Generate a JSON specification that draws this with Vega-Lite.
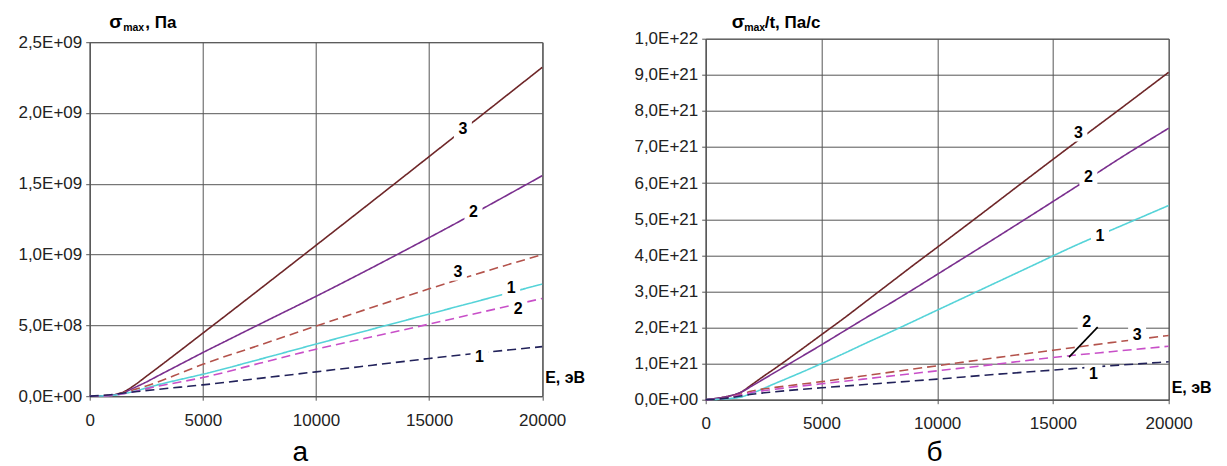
{
  "$schema": "https://vega.github.io/schema/vega-lite/v6.json",
  "background": "white",
  "padding": {"left": 16.7, "top": 12.7, "right": 5, "bottom": 0},
  "spacing": 163,
  "bounds": "flush",
  "center": true,
  "config": {
    "font": "Liberation Sans",
    "view": {"stroke": "#555555", "strokeWidth": 1},
    "axis": {
      "gridColor": "#555555", "gridOpacity": 1, "gridWidth": 1,
      "domainColor": "#555555", "domainWidth": 1,
      "tickColor": "#555555", "tickSize": 4,
      "labelFontSize": 17, "labelColor": "#222222", "labelFont": "Liberation Sans"
    }
  },
  "datasets": {
    "curves": [
      {"panel":"a","s":"3s","E":0,"v":0},{"panel":"a","s":"3s","E":500,"v":2e6},{"panel":"a","s":"3s","E":1000,"v":8e6},{"panel":"a","s":"3s","E":1500,"v":3e7},{"panel":"a","s":"3s","E":2000,"v":8e7},{"panel":"a","s":"3s","E":2500,"v":1.4e8},{"panel":"a","s":"3s","E":3000,"v":2.0e8},{"panel":"a","s":"3s","E":4000,"v":3.22e8},{"panel":"a","s":"3s","E":5000,"v":4.45e8},{"panel":"a","s":"3s","E":6000,"v":5.68e8},{"panel":"a","s":"3s","E":8000,"v":8.16e8},{"panel":"a","s":"3s","E":10000,"v":1.065e9},{"panel":"a","s":"3s","E":12000,"v":1.315e9},{"panel":"a","s":"3s","E":14000,"v":1.566e9},{"panel":"a","s":"3s","E":16000,"v":1.818e9},{"panel":"a","s":"3s","E":18000,"v":2.07e9},{"panel":"a","s":"3s","E":20000,"v":2.322e9},
      {"panel":"a","s":"2s","E":0,"v":0},{"panel":"a","s":"2s","E":500,"v":2e6},{"panel":"a","s":"2s","E":1000,"v":8e6},{"panel":"a","s":"2s","E":1500,"v":2.6e7},{"panel":"a","s":"2s","E":2000,"v":6.2e7},{"panel":"a","s":"2s","E":2500,"v":1.0e8},{"panel":"a","s":"2s","E":3000,"v":1.42e8},{"panel":"a","s":"2s","E":4000,"v":2.25e8},{"panel":"a","s":"2s","E":5000,"v":3.08e8},{"panel":"a","s":"2s","E":6000,"v":3.88e8},{"panel":"a","s":"2s","E":8000,"v":5.47e8},{"panel":"a","s":"2s","E":10000,"v":7.05e8},{"panel":"a","s":"2s","E":12000,"v":8.68e8},{"panel":"a","s":"2s","E":14000,"v":1.035e9},{"panel":"a","s":"2s","E":16000,"v":1.205e9},{"panel":"a","s":"2s","E":18000,"v":1.38e9},{"panel":"a","s":"2s","E":20000,"v":1.557e9},
      {"panel":"a","s":"3d","E":0,"v":0},{"panel":"a","s":"3d","E":1000,"v":1.0e7},{"panel":"a","s":"3d","E":1500,"v":2.6e7},{"panel":"a","s":"3d","E":2000,"v":4.8e7},{"panel":"a","s":"3d","E":2500,"v":7.2e7},{"panel":"a","s":"3d","E":3000,"v":1.0e8},{"panel":"a","s":"3d","E":4000,"v":1.62e8},{"panel":"a","s":"3d","E":5000,"v":2.25e8},{"panel":"a","s":"3d","E":7500,"v":3.6e8},{"panel":"a","s":"3d","E":10000,"v":4.95e8},{"panel":"a","s":"3d","E":12500,"v":6.28e8},{"panel":"a","s":"3d","E":15000,"v":7.58e8},{"panel":"a","s":"3d","E":17500,"v":8.82e8},{"panel":"a","s":"3d","E":20000,"v":1.0e9},
      {"panel":"a","s":"1s","E":0,"v":0},{"panel":"a","s":"1s","E":1000,"v":6e6},{"panel":"a","s":"1s","E":1500,"v":1.8e7},{"panel":"a","s":"1s","E":2000,"v":3.6e7},{"panel":"a","s":"1s","E":2500,"v":5.8e7},{"panel":"a","s":"1s","E":3000,"v":8.0e7},{"panel":"a","s":"1s","E":4000,"v":1.18e8},{"panel":"a","s":"1s","E":5000,"v":1.55e8},{"panel":"a","s":"1s","E":7500,"v":2.6e8},{"panel":"a","s":"1s","E":10000,"v":3.68e8},{"panel":"a","s":"1s","E":12500,"v":4.74e8},{"panel":"a","s":"1s","E":15000,"v":5.8e8},{"panel":"a","s":"1s","E":17500,"v":6.86e8},{"panel":"a","s":"1s","E":20000,"v":7.92e8},
      {"panel":"a","s":"2d","E":0,"v":0},{"panel":"a","s":"2d","E":1000,"v":6e6},{"panel":"a","s":"2d","E":1500,"v":1.7e7},{"panel":"a","s":"2d","E":2000,"v":3.3e7},{"panel":"a","s":"2d","E":2500,"v":5.2e7},{"panel":"a","s":"2d","E":3000,"v":7.0e7},{"panel":"a","s":"2d","E":4000,"v":1.0e8},{"panel":"a","s":"2d","E":5000,"v":1.32e8},{"panel":"a","s":"2d","E":7500,"v":2.32e8},{"panel":"a","s":"2d","E":10000,"v":3.32e8},{"panel":"a","s":"2d","E":12500,"v":4.2e8},{"panel":"a","s":"2d","E":15000,"v":5.09e8},{"panel":"a","s":"2d","E":17500,"v":6.0e8},{"panel":"a","s":"2d","E":20000,"v":6.9e8},
      {"panel":"a","s":"1d","E":0,"v":0},{"panel":"a","s":"1d","E":1000,"v":1.2e7},{"panel":"a","s":"1d","E":1500,"v":2.2e7},{"panel":"a","s":"1d","E":2000,"v":3.1e7},{"panel":"a","s":"1d","E":3000,"v":4.8e7},{"panel":"a","s":"1d","E":4000,"v":6.4e7},{"panel":"a","s":"1d","E":5000,"v":8.0e7},{"panel":"a","s":"1d","E":7500,"v":1.26e8},{"panel":"a","s":"1d","E":10000,"v":1.72e8},{"panel":"a","s":"1d","E":12500,"v":2.19e8},{"panel":"a","s":"1d","E":15000,"v":2.66e8},{"panel":"a","s":"1d","E":17500,"v":3.1e8},{"panel":"a","s":"1d","E":20000,"v":3.5e8},
      {"panel":"b","s":"3s","E":0,"v":0},{"panel":"b","s":"3s","E":500,"v":0.04},{"panel":"b","s":"3s","E":1000,"v":0.1},{"panel":"b","s":"3s","E":1500,"v":0.2},{"panel":"b","s":"3s","E":2000,"v":0.42},{"panel":"b","s":"3s","E":2500,"v":0.65},{"panel":"b","s":"3s","E":3000,"v":0.87},{"panel":"b","s":"3s","E":4000,"v":1.33},{"panel":"b","s":"3s","E":5000,"v":1.8},{"panel":"b","s":"3s","E":6000,"v":2.27},{"panel":"b","s":"3s","E":7000,"v":2.76},{"panel":"b","s":"3s","E":8000,"v":3.25},{"panel":"b","s":"3s","E":9000,"v":3.74},{"panel":"b","s":"3s","E":10000,"v":4.22},{"panel":"b","s":"3s","E":12000,"v":5.19},{"panel":"b","s":"3s","E":14000,"v":6.17},{"panel":"b","s":"3s","E":16000,"v":7.14},{"panel":"b","s":"3s","E":18000,"v":8.1},{"panel":"b","s":"3s","E":20000,"v":9.07},
      {"panel":"b","s":"2s","E":0,"v":0},{"panel":"b","s":"2s","E":500,"v":0.04},{"panel":"b","s":"2s","E":1000,"v":0.1},{"panel":"b","s":"2s","E":1500,"v":0.2},{"panel":"b","s":"2s","E":2000,"v":0.38},{"panel":"b","s":"2s","E":2500,"v":0.57},{"panel":"b","s":"2s","E":3000,"v":0.76},{"panel":"b","s":"2s","E":4000,"v":1.14},{"panel":"b","s":"2s","E":5000,"v":1.52},{"panel":"b","s":"2s","E":6000,"v":1.91},{"panel":"b","s":"2s","E":7000,"v":2.3},{"panel":"b","s":"2s","E":8000,"v":2.68},{"panel":"b","s":"2s","E":9000,"v":3.07},{"panel":"b","s":"2s","E":10000,"v":3.47},{"panel":"b","s":"2s","E":12000,"v":4.27},{"panel":"b","s":"2s","E":14000,"v":5.08},{"panel":"b","s":"2s","E":16000,"v":5.9},{"panel":"b","s":"2s","E":18000,"v":6.73},{"panel":"b","s":"2s","E":20000,"v":7.52},
      {"panel":"b","s":"1s","E":0,"v":0},{"panel":"b","s":"1s","E":500,"v":0.01},{"panel":"b","s":"1s","E":1000,"v":0.03},{"panel":"b","s":"1s","E":1500,"v":0.07},{"panel":"b","s":"1s","E":2000,"v":0.18},{"panel":"b","s":"1s","E":3000,"v":0.45},{"panel":"b","s":"1s","E":4000,"v":0.72},{"panel":"b","s":"1s","E":5000,"v":1.0},{"panel":"b","s":"1s","E":6000,"v":1.29},{"panel":"b","s":"1s","E":7000,"v":1.59},{"panel":"b","s":"1s","E":8000,"v":1.88},{"panel":"b","s":"1s","E":10000,"v":2.48},{"panel":"b","s":"1s","E":12000,"v":3.08},{"panel":"b","s":"1s","E":14000,"v":3.68},{"panel":"b","s":"1s","E":16000,"v":4.28},{"panel":"b","s":"1s","E":18000,"v":4.83},{"panel":"b","s":"1s","E":20000,"v":5.38},
      {"panel":"b","s":"3d","E":0,"v":0},{"panel":"b","s":"3d","E":500,"v":0.02},{"panel":"b","s":"3d","E":1000,"v":0.07},{"panel":"b","s":"3d","E":1500,"v":0.15},{"panel":"b","s":"3d","E":2000,"v":0.24},{"panel":"b","s":"3d","E":3000,"v":0.34},{"panel":"b","s":"3d","E":4000,"v":0.42},{"panel":"b","s":"3d","E":5000,"v":0.5},{"panel":"b","s":"3d","E":7500,"v":0.72},{"panel":"b","s":"3d","E":10000,"v":0.94},{"panel":"b","s":"3d","E":12500,"v":1.16},{"panel":"b","s":"3d","E":15000,"v":1.37},{"panel":"b","s":"3d","E":17500,"v":1.58},{"panel":"b","s":"3d","E":20000,"v":1.78},
      {"panel":"b","s":"2d","E":0,"v":0},{"panel":"b","s":"2d","E":1000,"v":0.06},{"panel":"b","s":"2d","E":1500,"v":0.13},{"panel":"b","s":"2d","E":2000,"v":0.2},{"panel":"b","s":"2d","E":3000,"v":0.29},{"panel":"b","s":"2d","E":4000,"v":0.37},{"panel":"b","s":"2d","E":5000,"v":0.44},{"panel":"b","s":"2d","E":7500,"v":0.62},{"panel":"b","s":"2d","E":10000,"v":0.8},{"panel":"b","s":"2d","E":12500,"v":0.98},{"panel":"b","s":"2d","E":15000,"v":1.17},{"panel":"b","s":"2d","E":17500,"v":1.33},{"panel":"b","s":"2d","E":20000,"v":1.48},
      {"panel":"b","s":"1d","E":0,"v":0},{"panel":"b","s":"1d","E":1000,"v":0.05},{"panel":"b","s":"1d","E":1500,"v":0.1},{"panel":"b","s":"1d","E":2000,"v":0.15},{"panel":"b","s":"1d","E":3000,"v":0.22},{"panel":"b","s":"1d","E":4000,"v":0.28},{"panel":"b","s":"1d","E":5000,"v":0.33},{"panel":"b","s":"1d","E":7500,"v":0.45},{"panel":"b","s":"1d","E":10000,"v":0.57},{"panel":"b","s":"1d","E":12500,"v":0.7},{"panel":"b","s":"1d","E":15000,"v":0.82},{"panel":"b","s":"1d","E":17500,"v":0.94},{"panel":"b","s":"1d","E":20000,"v":1.05}
    ],
    "labels": [
      {"panel":"a","E":16494,"v":1.887e9,"t":"3"},
      {"panel":"a","E":16963,"v":1.298e9,"t":"2"},
      {"panel":"a","E":16274,"v":8.8e8,"t":"3"},
      {"panel":"a","E":18630,"v":7.62e8,"t":"1"},
      {"panel":"a","E":18940,"v":6.16e8,"t":"2"},
      {"panel":"a","E":17230,"v":2.74e8,"t":"1"},
      {"panel":"b","E":16099,"v":7.4,"t":"3"},
      {"panel":"b","E":16531,"v":6.18,"t":"2"},
      {"panel":"b","E":17033,"v":4.54,"t":"1"},
      {"panel":"b","E":16458,"v":2.15,"t":"2"},
      {"panel":"b","E":18636,"v":1.79,"t":"3"},
      {"panel":"b","E":16747,"v":0.72,"t":"1"}
    ]
  },
  "hconcat": [
    {
      "width": 452.5,
      "height": 354,
      "layer": [
        {
          "data": {"name": "curves"},
          "transform": [{"filter": "datum.panel == 'a'"}],
          "mark": {"type": "line", "interpolate": "monotone"},
          "encoding": {
            "x": {"field": "E", "type": "quantitative", "title": null, "scale": {"domain": [0, 20000], "nice": false}, "axis": {"values": [0, 5000, 10000, 15000, 20000], "tickCount": 20, "format": "d", "title": null, "labelPadding": 12, "labelFlush": false, "labelOverlap": false}},
            "y": {"field": "v", "type": "quantitative", "title": null, "scale": {"domain": [0, 2.5e9], "nice": false}, "axis": {"values": [0, 5e8, 1e9, 1.5e9, 2e9, 2.5e9], "tickCount": 20, "title": null, "labelPadding": 4, "labelOverlap": false, "labelExpr": "datum.value == 0 ? '0,0E+00' : replace(format(datum.value / pow(10, floor(log(datum.value) / LN10 + 0.000001)), '.1f'), '.', ',') + 'E+' + (floor(log(datum.value) / LN10 + 0.000001) < 10 ? '0' : '') + floor(log(datum.value) / LN10 + 0.000001)"}},
            "detail": {"field": "s"},
            "color": {"field": "s", "type": "nominal", "scale": {"domain": ["3s", "2s", "1s", "3d", "2d", "1d"], "range": ["#6e2628", "#7a2f8e", "#55d3d8", "#b3524b", "#c84fc8", "#22225a"]}, "legend": null},
            "strokeDash": {"field": "s", "type": "nominal", "scale": {"domain": ["3s", "2s", "1s", "3d", "2d", "1d"], "range": [[1, 0], [1, 0], [1, 0], [9, 5], [9, 5], [9, 5]]}, "legend": null},
            "strokeWidth": {"field": "s", "type": "nominal", "scale": {"domain": ["3s", "2s", "1s", "3d", "2d", "1d"], "range": [1.6, 1.6, 2.2, 1.8, 1.8, 1.8]}, "legend": null}
          }
        },
        {
          "data": {"name": "labels"},
          "transform": [{"filter": "datum.panel == 'a'"}],
          "mark": {"type": "point", "shape": "square", "filled": true, "color": "white", "opacity": 1, "size": 324, "strokeWidth": 0},
          "encoding": {
            "x": {"field": "E", "type": "quantitative", "title": null, "scale": {"domain": [0, 20000], "nice": false}},
            "y": {"field": "v", "type": "quantitative", "title": null, "scale": {"domain": [0, 2.5e9], "nice": false}}
          }
        },
        {
          "data": {"name": "labels"},
          "transform": [{"filter": "datum.panel == 'a'"}],
          "mark": {"type": "text", "fontSize": 16, "fontWeight": "bold", "color": "#000000", "align": "center", "baseline": "middle"},
          "encoding": {
            "x": {"field": "E", "type": "quantitative", "title": null, "scale": {"domain": [0, 20000], "nice": false}},
            "y": {"field": "v", "type": "quantitative", "title": null, "scale": {"domain": [0, 2.5e9], "nice": false}},
            "text": {"field": "t"}
          }
        },
        {
          "data": {"values": [{}]},
          "mark": {"type": "text", "text": "σ", "fontSize": 19, "fontWeight": "bold", "color": "#000000", "align": "left", "baseline": "alphabetic"},
          "encoding": {
            "x": {"datum": 862, "type": "quantitative", "title": null, "scale": {"domain": [0, 20000], "nice": false}},
            "y": {"datum": 2.597e9, "type": "quantitative", "title": null, "scale": {"domain": [0, 2.5e9], "nice": false}}
          }
        },
        {
          "data": {"values": [{}]},
          "mark": {"type": "text", "text": "max", "fontSize": 10.5, "fontWeight": "bold", "color": "#000000", "align": "left", "baseline": "alphabetic"},
          "encoding": {
            "x": {"datum": 1481, "type": "quantitative", "title": null, "scale": {"domain": [0, 20000], "nice": false}},
            "y": {"datum": 2.576e9, "type": "quantitative", "title": null, "scale": {"domain": [0, 2.5e9], "nice": false}}
          }
        },
        {
          "data": {"values": [{}]},
          "mark": {"type": "text", "text": ", Па", "fontSize": 17, "fontWeight": "bold", "color": "#000000", "align": "left", "baseline": "alphabetic"},
          "encoding": {
            "x": {"datum": 2460, "type": "quantitative", "title": null, "scale": {"domain": [0, 20000], "nice": false}},
            "y": {"datum": 2.597e9, "type": "quantitative", "title": null, "scale": {"domain": [0, 2.5e9], "nice": false}}
          }
        },
        {
          "data": {"values": [{}]},
          "mark": {"type": "text", "text": "E, эВ", "fontSize": 16, "fontWeight": "bold", "color": "#000000", "align": "left", "baseline": "alphabetic"},
          "encoding": {
            "x": {"datum": 20133, "type": "quantitative", "title": null, "scale": {"domain": [0, 20000], "nice": false}},
            "y": {"datum": 9.04e7, "type": "quantitative", "title": null, "scale": {"domain": [0, 2.5e9], "nice": false}}
          }
        },
        {
          "data": {"values": [{}]},
          "mark": {"type": "text", "text": "а", "fontSize": 28, "color": "#000000", "align": "center", "baseline": "alphabetic"},
          "encoding": {
            "x": {"datum": 9304, "type": "quantitative", "title": null, "scale": {"domain": [0, 20000], "nice": false}},
            "y": {"datum": -4.6e8, "type": "quantitative", "title": null, "scale": {"domain": [0, 2.5e9], "nice": false}}
          }
        }
      ]
    },
    {
      "width": 463,
      "height": 361,
      "layer": [
        {
          "data": {"name": "curves"},
          "transform": [{"filter": "datum.panel == 'b'"}],
          "mark": {"type": "line", "interpolate": "monotone"},
          "encoding": {
            "x": {"field": "E", "type": "quantitative", "title": null, "scale": {"domain": [0, 20000], "nice": false}, "axis": {"values": [0, 5000, 10000, 15000, 20000], "tickCount": 20, "format": "d", "title": null, "labelPadding": 12, "labelFlush": false, "labelOverlap": false}},
            "y": {"field": "v", "type": "quantitative", "title": null, "scale": {"domain": [0, 10], "nice": false}, "axis": {"values": [0, 1, 2, 3, 4, 5, 6, 7, 8, 9, 10], "tickCount": 20, "title": null, "labelPadding": 4, "labelOverlap": false, "labelExpr": "datum.value == 0 ? '0,0E+00' : datum.value >= 10 ? '1,0E+22' : datum.value + ',0E+21'"}},
            "detail": {"field": "s"},
            "color": {"field": "s", "type": "nominal", "scale": {"domain": ["3s", "2s", "1s", "3d", "2d", "1d"], "range": ["#6e2628", "#7a2f8e", "#55d3d8", "#b3524b", "#c84fc8", "#22225a"]}, "legend": null},
            "strokeDash": {"field": "s", "type": "nominal", "scale": {"domain": ["3s", "2s", "1s", "3d", "2d", "1d"], "range": [[1, 0], [1, 0], [1, 0], [9, 5], [9, 5], [9, 5]]}, "legend": null},
            "strokeWidth": {"field": "s", "type": "nominal", "scale": {"domain": ["3s", "2s", "1s", "3d", "2d", "1d"], "range": [1.6, 1.6, 2.2, 1.8, 1.8, 1.8]}, "legend": null}
          }
        },
        {
          "data": {"name": "labels"},
          "transform": [{"filter": "datum.panel == 'b'"}],
          "mark": {"type": "point", "shape": "square", "filled": true, "color": "white", "opacity": 1, "size": 324, "strokeWidth": 0},
          "encoding": {
            "x": {"field": "E", "type": "quantitative", "title": null, "scale": {"domain": [0, 20000], "nice": false}},
            "y": {"field": "v", "type": "quantitative", "title": null, "scale": {"domain": [0, 10], "nice": false}}
          }
        },
        {
          "data": {"values": [{}]},
          "mark": {"type": "rule", "color": "#000000", "strokeWidth": 1.6},
          "encoding": {
            "x": {"datum": 16934, "type": "quantitative", "title": null, "scale": {"domain": [0, 20000], "nice": false}},
            "y": {"datum": 2.01, "type": "quantitative", "title": null, "scale": {"domain": [0, 10], "nice": false}},
            "x2": {"datum": 15695},
            "y2": {"datum": 1.18}
          }
        },
        {
          "data": {"name": "labels"},
          "transform": [{"filter": "datum.panel == 'b'"}],
          "mark": {"type": "text", "fontSize": 16, "fontWeight": "bold", "color": "#000000", "align": "center", "baseline": "middle"},
          "encoding": {
            "x": {"field": "E", "type": "quantitative", "title": null, "scale": {"domain": [0, 20000], "nice": false}},
            "y": {"field": "v", "type": "quantitative", "title": null, "scale": {"domain": [0, 10], "nice": false}},
            "text": {"field": "t"}
          }
        },
        {
          "data": {"values": [{}]},
          "mark": {"type": "text", "text": "σ", "fontSize": 19, "fontWeight": "bold", "color": "#000000", "align": "left", "baseline": "alphabetic"},
          "encoding": {
            "x": {"datum": 1123, "type": "quantitative", "title": null, "scale": {"domain": [0, 20000], "nice": false}},
            "y": {"datum": 10.285, "type": "quantitative", "title": null, "scale": {"domain": [0, 10], "nice": false}}
          }
        },
        {
          "data": {"values": [{}]},
          "mark": {"type": "text", "text": "max", "fontSize": 10.5, "fontWeight": "bold", "color": "#000000", "align": "left", "baseline": "alphabetic"},
          "encoding": {
            "x": {"datum": 1663, "type": "quantitative", "title": null, "scale": {"domain": [0, 20000], "nice": false}},
            "y": {"datum": 10.202, "type": "quantitative", "title": null, "scale": {"domain": [0, 10], "nice": false}}
          }
        },
        {
          "data": {"values": [{}]},
          "mark": {"type": "text", "text": "/t, Па/с", "fontSize": 17, "fontWeight": "bold", "color": "#000000", "align": "left", "baseline": "alphabetic"},
          "encoding": {
            "x": {"datum": 2549, "type": "quantitative", "title": null, "scale": {"domain": [0, 20000], "nice": false}},
            "y": {"datum": 10.285, "type": "quantitative", "title": null, "scale": {"domain": [0, 10], "nice": false}}
          }
        },
        {
          "data": {"values": [{}]},
          "mark": {"type": "text", "text": "E, эВ", "fontSize": 16, "fontWeight": "bold", "color": "#000000", "align": "left", "baseline": "alphabetic"},
          "encoding": {
            "x": {"datum": 20131, "type": "quantitative", "title": null, "scale": {"domain": [0, 20000], "nice": false}},
            "y": {"datum": 0.175, "type": "quantitative", "title": null, "scale": {"domain": [0, 10], "nice": false}}
          }
        },
        {
          "data": {"values": [{}]},
          "mark": {"type": "text", "text": "б", "fontSize": 28, "color": "#000000", "align": "center", "baseline": "alphabetic"},
          "encoding": {
            "x": {"datum": 9880, "type": "quantitative", "title": null, "scale": {"domain": [0, 20000], "nice": false}},
            "y": {"datum": -1.71, "type": "quantitative", "title": null, "scale": {"domain": [0, 10], "nice": false}}
          }
        }
      ]
    }
  ]
}
